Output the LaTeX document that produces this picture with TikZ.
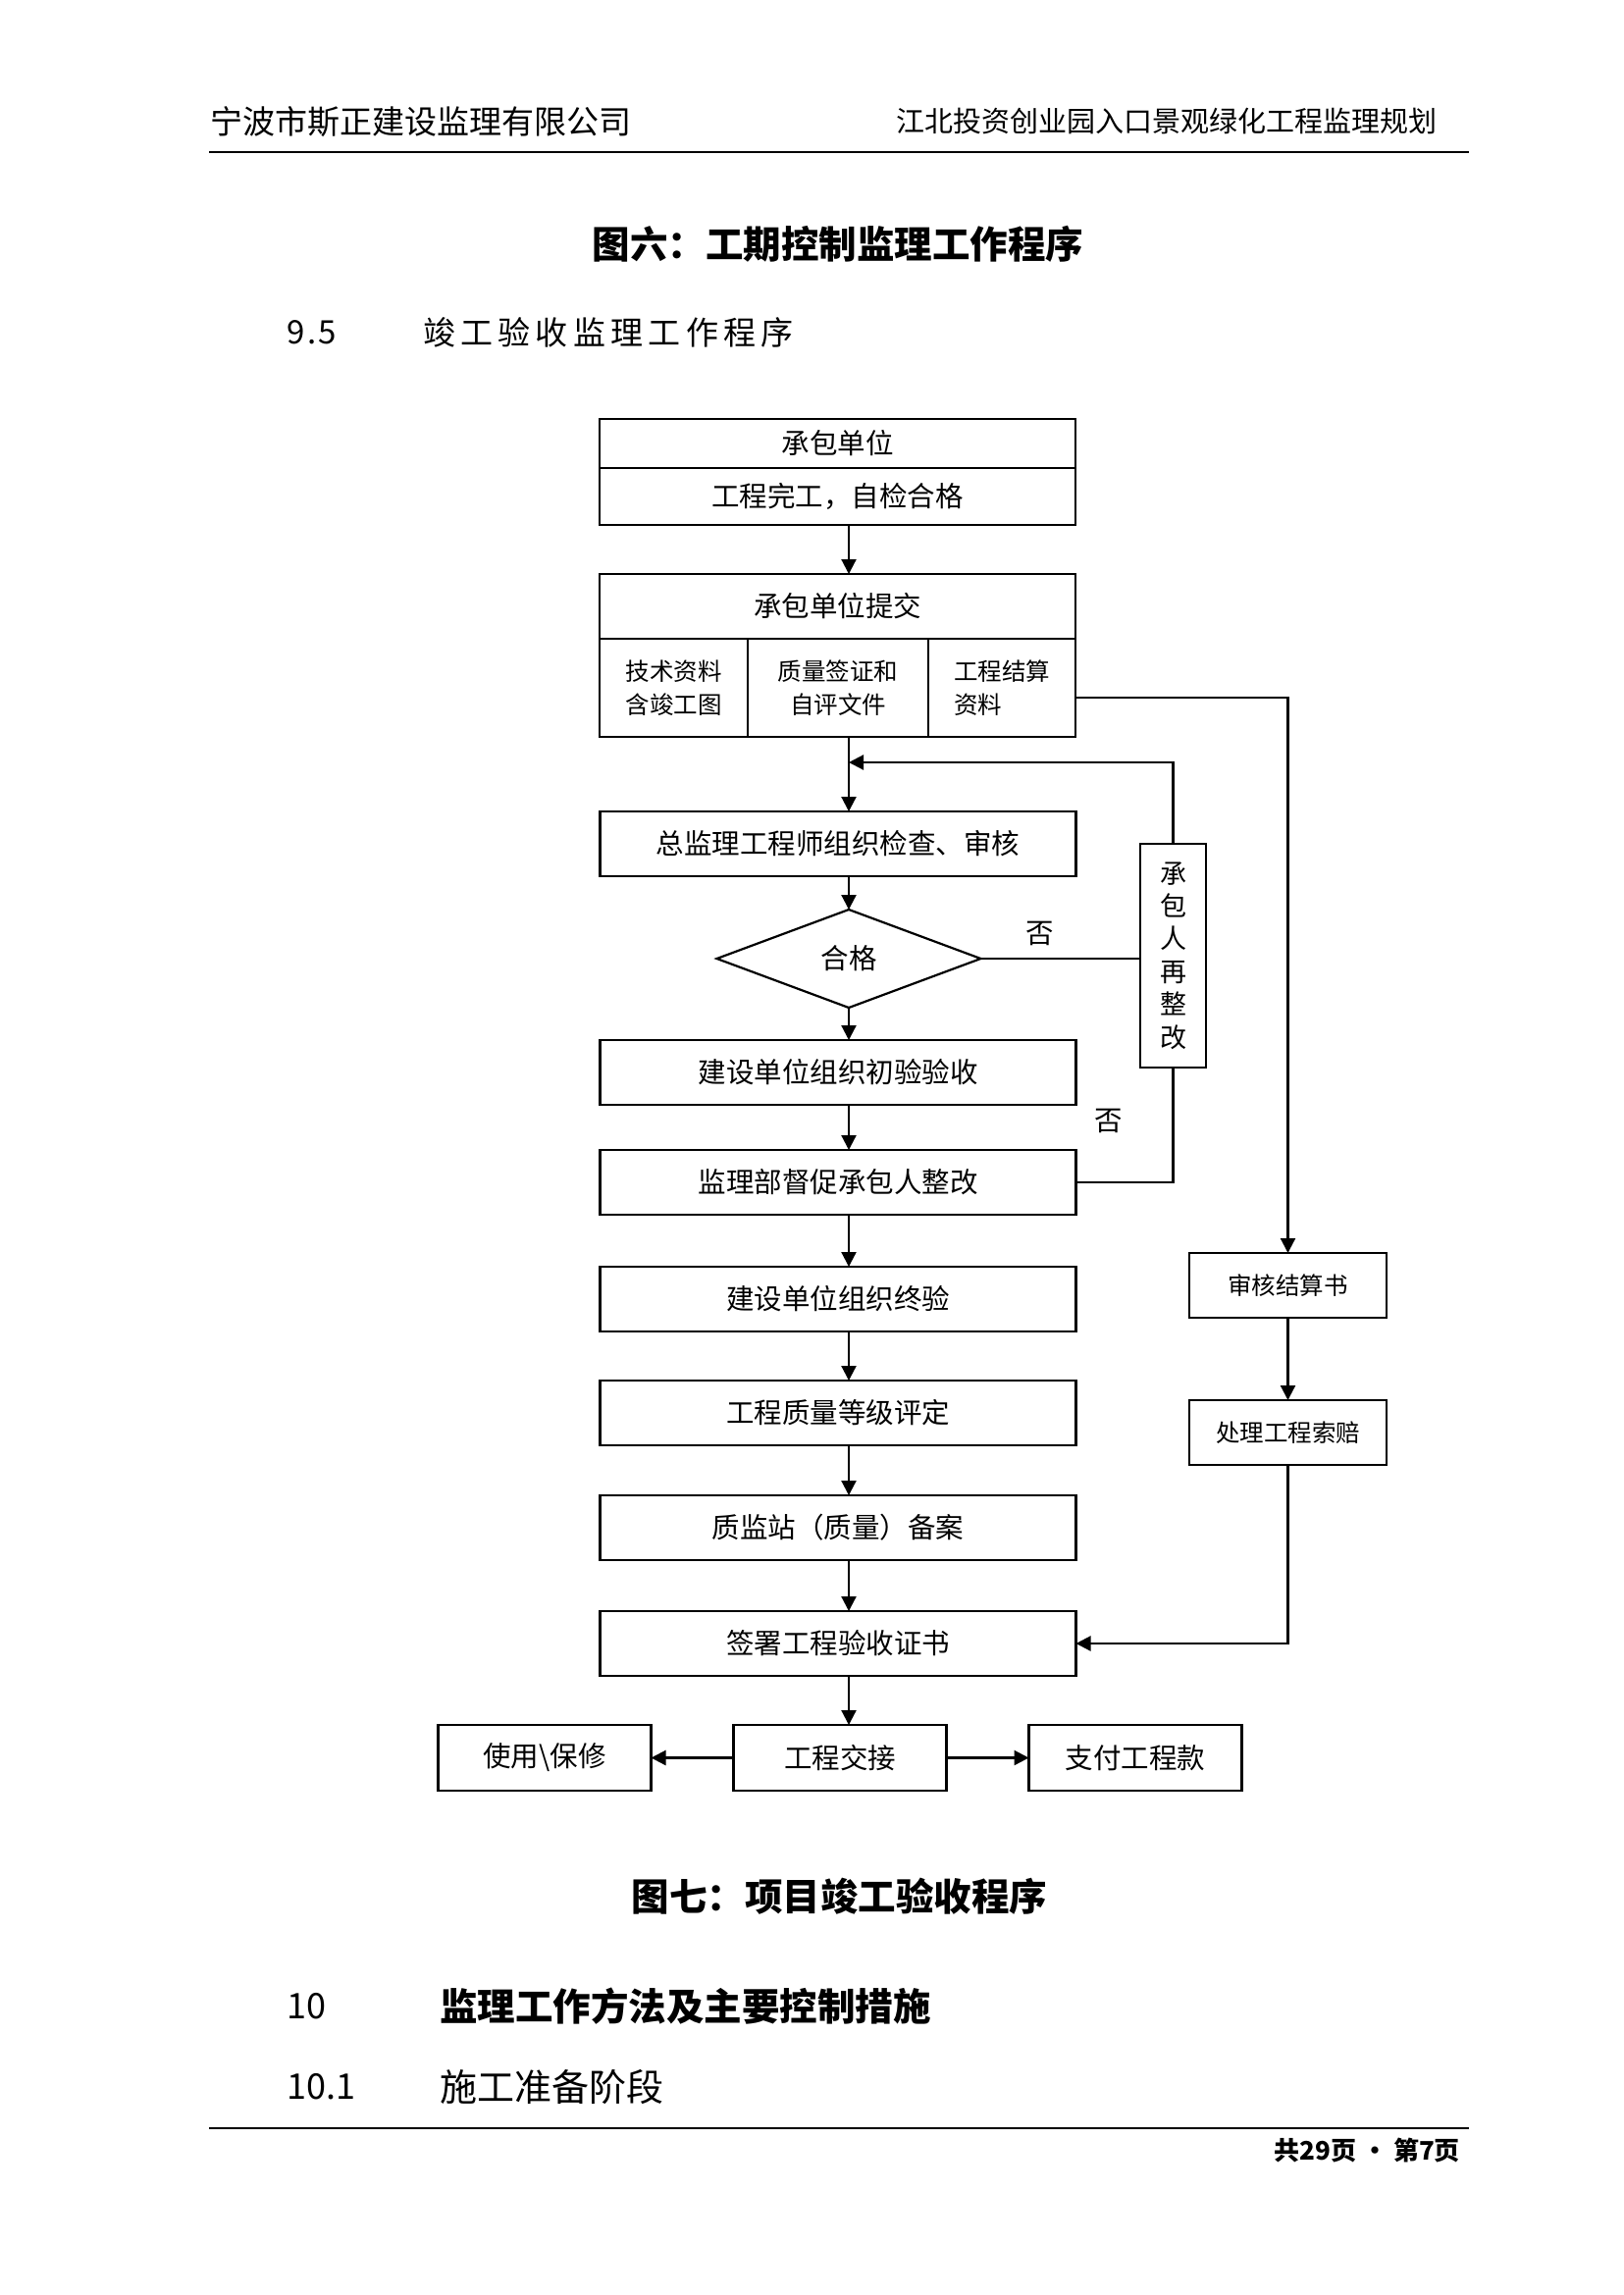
\documentclass[tikz,border=0pt]{standalone}
\usepackage{fontspec}
\setmainfont{Noto Sans CJK SC}
\usetikzlibrary{positioning, arrows.meta, shapes.geometric}

\newcommand\boxfont{\fontsize{28.5}{34}\selectfont}
\newcommand\smallboxfont{\fontsize{24.5}{34.5}\selectfont}
\newcommand\vertfont{\fontsize{27}{33.4}\selectfont}
\newcommand\headfont{\bfseries\fontsize{38.5}{46}\selectfont}
\newcommand\secfont{\fontsize{33}{40}\selectfont\addfontfeature{LetterSpace=16}}
\newcommand\secnumfont{\fontsize{33}{40}\selectfont\addfontfeature{LetterSpace=8}}

\begin{document}
\begin{tikzpicture}[
    x=1pt, y=-1pt,
    >={Triangle[length=15pt,width=15pt]},
    line width=2.2pt,
    node distance=50pt,
    mybox/.style={draw, rectangle, minimum width=485pt, minimum height=66pt, inner sep=0pt, outer sep=0pt, font=\boxfont},
    subbox/.style={draw, rectangle, minimum height=100pt, inner sep=0pt, outer sep=0pt, align=center, font=\smallboxfont},
    sidebox/.style={draw, rectangle, minimum width=201pt, minimum height=66pt, inner sep=0pt, outer sep=0pt, font=\smallboxfont},
    endbox/.style={draw, rectangle, minimum width=217pt, minimum height=67pt, inner sep=0pt, outer sep=0pt, font=\boxfont},
    decision/.style={draw, diamond, aspect=2.69, minimum width=269pt, minimum height=100pt, inner sep=0pt, outer sep=0pt, font=\boxfont},
    txt/.style={inner sep=0pt}
  ]
  \path[use as bounding box, fill=white] (0,0) rectangle (1654,2339);

  % page head
  \node[txt, anchor=west, font=\fontsize{33}{40}\selectfont] (corp) at (213,124) {宁波市斯正建设监理有限公司};
  \node[txt, anchor=east, font=\fontsize{29}{35}\selectfont] (proj) at (1466,124) {江北投资创业园入口景观绿化工程监理规划};
  \draw[line width=2.5pt] (213,155) -- (1497,155);

  \node[txt, font=\headfont] (fig6) at (854,249) {图六：工期控制监理工作程序};
  \node[txt, anchor=west, font=\secnumfont] (sec95) at (291,339) {9.5};
  \node[txt, anchor=west, font=\secfont] (sec95t) at (430,339) {竣工验收监理工作程序};

  % main column
  \node[mybox, minimum height=50pt] (cbdw) at (853.5,452) {承包单位};
  \node[mybox, minimum height=58pt, below=0pt of cbdw] (wg) {工程完工，自检合格};
  \node[mybox, below=of wg] (tj) {承包单位提交};
  \node[subbox, minimum width=151pt, anchor=north west] (zl1) at (tj.south west) {技术资料\\含竣工图};
  \node[subbox, minimum width=184pt, right=0pt of zl1] (zl2) {质量签证和\\自评文件};
  \node[subbox, minimum width=150pt, right=0pt of zl2, align=left] (zl3) {工程结算\\资料};

  \node[mybox, below=76pt of zl2] (zj) {总监理工程师组织检查、审核};
  \node[decision, below=34pt of zj, xshift=11pt] (hg) {合格};
  \node[mybox, below=33pt of hg, xshift=-11pt] (csys) {建设单位组织初验验收};
  \node[mybox, below=46pt of csys] (dczg) {监理部督促承包人整改};
  \node[mybox, below=53pt of dczg] (zy) {建设单位组织终验};
  \node[mybox, below=of zy] (pd) {工程质量等级评定};
  \node[mybox, below=51pt of pd] (ba) {质监站（质量）备案};
  \node[mybox, below=52pt of ba] (qs) {签署工程验收证书};
  \node[endbox, below=of qs, xshift=2pt] (jj) {工程交接};
  \node[endbox, left=84pt of jj] (sy) {使用\textbackslash 保修};
  \node[endbox, right=84pt of jj] (zf) {支付工程款};

  % right side
  \node[draw, minimum width=67pt, minimum height=228pt, inner sep=0pt, outer sep=0pt, align=center, font=\vertfont] (zg) at (1195.5,974) {承\\包\\人\\再\\整\\改};
  \node[sidebox] (shjs) at (1312.5,1310) {审核结算书};
  \node[sidebox, below=84pt of shjs] (clsp) {处理工程索赔};

  \node[txt, font=\boxfont] (no1) at (1060,951) {否};
  \node[txt, font=\boxfont] (no2) at (1130,1142) {否};

  % connectors
  \draw[->] (wg.south -| hg) -- (tj.north -| hg);
  \draw[->] (zl2.south -| hg) -- (zj.north -| hg);
  \path (zl2.south -| hg) ++(0,26) coordinate (fb);
  \draw[->] (zg.north) |- (fb);
  \draw[->] (zj.south -| hg) -- (hg);
  \draw[->] (hg) -- (csys.north -| hg);
  \draw (hg.east) -- (hg.east -| zg.west);
  \draw[->] (csys.south -| hg) -- (dczg.north -| hg);
  \draw (dczg) -| (zg);
  \draw[->] (dczg.south -| hg) -- (zy.north -| hg);
  \draw[->] (zy.south -| hg) -- (pd.north -| hg);
  \draw[->] (pd.south -| hg) -- (ba.north -| hg);
  \draw[->] (ba.south -| hg) -- (qs.north -| hg);
  \draw[->] (qs.south -| hg) -- (jj.north -| hg);
  \draw[->] (jj) -- (sy);
  \draw[->] (jj) -- (zf);
  \draw[->] ([yshift=-10pt]zl3.east) -| (shjs);
  \draw[->] (shjs) -- (clsp);
  \draw[->] (clsp) |- (qs);

  % page foot
  \node[txt, font=\headfont] (fig7) at (855.5,1933) {图七：项目竣工验收程序};
  \node[txt, anchor=west, font=\fontsize{36}{43}\selectfont] (sec10) at (291,2045) {10};
  \node[txt, anchor=west, font=\bfseries\fontsize{38.5}{45}\selectfont] (sec10t) at (447,2045) {监理工作方法及主要控制措施};
  \node[txt, anchor=west, font=\fontsize{36}{43}\selectfont] (sec101) at (291,2127) {10.1};
  \node[txt, anchor=west, font=\fontsize{38}{45}\selectfont] (sec101t) at (447,2127) {施工准备阶段};
  \draw[line width=2.5pt] (213,2169) -- (1497,2169);
  \node[txt, anchor=east, font=\bfseries\fontsize{26}{31}\selectfont] (pg) at (1489,2191) {共29页 • 第7页};
\end{tikzpicture}
\end{document}
